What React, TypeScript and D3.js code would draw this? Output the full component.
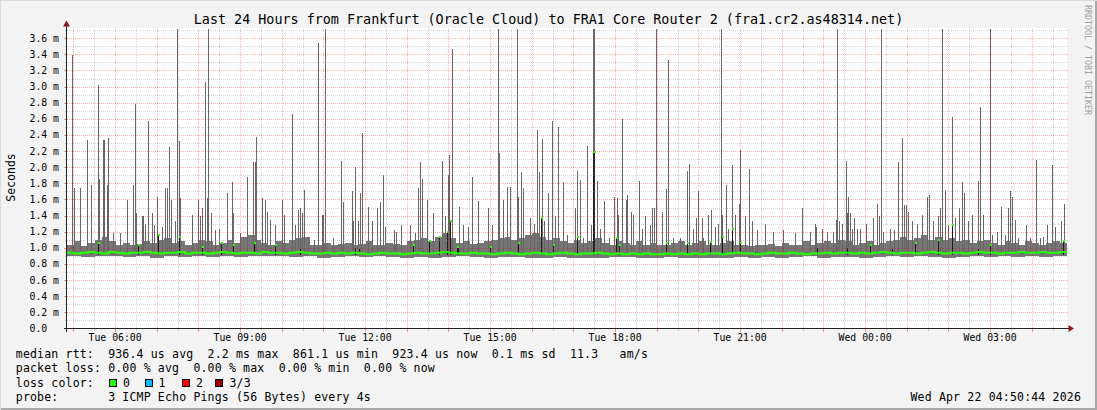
import * as d3 from "d3";
import { useEffect, useRef } from "react";

// time window of the graph
const startTime = new Date(2026, 3, 21, 4, 50, 44);
const endTime = new Date(2026, 3, 22, 4, 50, 44);
const totalMinutes = 1440;

// base smoke top (ms), 10 minute bins
const binMinutes = 10;
const smokeTop = [
  1.04, 1.08, 1.02, 1.06, 1.1, 1.14, 1.08, 1.04, 1.06, 1.03,
  1.05, 1.08, 1.06, 1.1, 1.12, 1.06, 1.08, 1.04, 1.06, 1.1,
  1.08, 1.04, 1.06, 1.1, 1.06, 1.14, 1.16, 1.1, 1.06, 1.04,
  1.08, 1.06, 1.1, 1.12, 1.14, 1.04, 1.03, 1.06, 1.03, 1.05,
  1.06, 1.03, 1.05, 1.08, 1.04, 1.03, 1.06, 1.05, 1.03, 1.08,
  1.1, 1.12, 1.08, 1.14, 1.18, 1.12, 1.06, 1.08, 1.05, 1.06,
  1.08, 1.1, 1.12, 1.14, 1.1, 1.12, 1.16, 1.18, 1.14, 1.1,
  1.12, 1.08, 1.06, 1.1, 1.06, 1.08, 1.12, 1.06, 1.04, 1.08,
  1.06, 1.04, 1.08, 1.03, 1.06, 1.04, 1.03, 1.06, 1.08, 1.04,
  1.06, 1.08, 1.04, 1.03, 1.06, 1.08, 1.04, 1.03, 1.02, 1.04,
  1.03, 1.05, 1.02, 1.06, 1.04, 1.03, 1.08, 1.04, 1.06, 1.08,
  1.06, 1.1, 1.08, 1.04, 1.06, 1.08, 1.04, 1.06, 1.08, 1.1,
  1.14, 1.1, 1.12, 1.16, 1.1, 1.14, 1.1, 1.12, 1.08, 1.1,
  1.06, 1.08, 1.1, 1.06, 1.04, 1.08, 1.06, 1.04, 1.08, 1.06,
  1.04, 1.06, 1.08, 1.06,
];

// median rtt (ms), 10 minute bins
const medianRtt = [
  0.94, 0.93, 0.94, 0.95, 0.94, 0.93, 0.95, 0.94, 0.93, 0.94,
  0.94, 0.95, 0.94, 0.93, 0.94, 0.94, 0.95, 0.93, 0.94, 0.94,
  0.93, 0.94, 0.95, 0.94, 0.93, 0.94, 0.94, 0.93, 0.95, 0.94,
  0.94, 0.93, 0.94, 0.95, 0.94, 0.93, 0.93, 0.94, 0.93, 0.94,
  0.93, 0.94, 0.93, 0.92, 0.93, 0.94, 0.93, 0.93, 0.92, 0.93,
  0.94, 0.93, 0.93, 0.94, 0.95, 0.94, 0.93, 0.93, 0.94, 0.93,
  0.93, 0.92, 0.93, 0.94, 0.93, 0.92, 0.93, 0.94, 0.93, 0.92,
  0.93, 0.94, 0.93, 0.92, 0.93, 0.93, 0.94, 0.93, 0.92, 0.93,
  0.92, 0.93, 0.92, 0.93, 0.92, 0.92, 0.93, 0.92, 0.93, 0.92,
  0.93, 0.92, 0.93, 0.93, 0.92, 0.93, 0.94, 0.93, 0.93, 0.92,
  0.93, 0.94, 0.93, 0.93, 0.94, 0.93, 0.92, 0.93, 0.93, 0.94,
  0.93, 0.94, 0.94, 0.93, 0.94, 0.93, 0.94, 0.95, 0.94, 0.93,
  0.94, 0.94, 0.93, 0.94, 0.95, 0.94, 0.93, 0.94, 0.94, 0.93,
  0.94, 0.95, 0.94, 0.94, 0.93, 0.94, 0.94, 0.95, 0.94, 0.94,
  0.95, 0.94, 0.94, 0.95,
];

// smoke bottom (ms), 20 minute bins
const smokeBottom = [
  0.9, 0.89, 0.9, 0.9, 0.89, 0.9, 0.88, 0.9, 0.89, 0.9,
  0.89, 0.9, 0.89, 0.9, 0.9, 0.9, 0.89, 0.9, 0.88, 0.89,
  0.9, 0.89, 0.9, 0.89, 0.88, 0.89, 0.88, 0.89, 0.9, 0.89,
  0.88, 0.89, 0.89, 0.88, 0.88, 0.89, 0.88, 0.88, 0.88, 0.89,
  0.89, 0.88, 0.88, 0.89, 0.88, 0.88, 0.88, 0.88, 0.89, 0.88,
  0.89, 0.88, 0.89, 0.9, 0.88, 0.89, 0.89, 0.88, 0.89, 0.9,
  0.89, 0.9, 0.89, 0.88, 0.89, 0.9, 0.89, 0.9, 0.89, 0.9,
  0.89, 0.9,
];

// single ping spikes: [minutes since start, max rtt ms]
const spikes: [number, number][] = [
  [7.6, 3.39], [9.4, 1.74], [10.5, 1.74], [18.7, 1.74], [29.2, 2.34], [34.1, 1.78], [45.1, 3.02], [46.5, 1.85],
  [52.3, 2.34], [53.7, 2.34], [57.1, 1.78], [59.5, 2.36], [66.7, 1.18], [76.3, 1.18], [86.8, 1.59], [94.6, 1.78],
  [97.9, 2.79], [99.4, 1.43], [107.5, 1.39], [109.9, 1.39], [112.3, 1.3], [117.1, 2.57], [122, 1.43], [125.7, 1.28],
  [130, 1.63], [136.4, 1.26], [141.1, 1.74], [143.6, 1.74], [147.3, 2.25], [149.8, 1.59], [155.5, 1.33], [158.8, 3.8],
  [161.7, 2.32], [162.7, 1.62], [180.4, 1.41], [189.1, 1.59], [191.5, 1.39], [194.8, 1.49], [199.2, 3.06], [201.2, 1.62],
  [203.5, 3.8], [206.9, 1.43], [213.1, 1.22], [218.9, 1.24], [230, 1.68], [237.2, 1.82], [239.5, 1.43], [249.1, 1.18],
  [258.8, 1.88], [268.3, 2.07], [270, 2.07], [271.7, 2.38], [280.4, 1.62], [285.1, 1.59], [287.6, 1.45], [292.3, 1.35],
  [299.5, 1.28], [310, 1.59], [312.9, 1.41], [324.4, 2.66], [328.3, 1.28], [333.1, 1.47], [335.5, 1.5], [338, 1.43],
  [340.8, 1.72], [347.5, 1.12], [356.1, 1.1],
  [361.9, 3.54], [366.8, 1.41], [369.1, 1.41], [371.5, 3.8], [383.5, 1.12], [394.1, 2.08], [397.9, 1.57], [410.8, 1.7],
  [412.3, 1.33], [415.2, 2.0], [419.5, 1.33], [421.9, 1.68], [424.8, 2.42], [433.9, 1.51], [439.6, 1.33], [446, 1.49],
  [451.2, 1.57], [454.6, 1.9], [457.9, 1.26], [470.4, 1.22], [473.3, 1.2], [481, 1.28], [493.9, 1.28], [501.1, 1.18],
  [505, 1.74], [508.8, 2.07], [511.6, 1.86], [518, 1.59], [527.5, 1.43], [540.4, 2.08], [544.3, 1.39], [548.2, 1.9],
  [550.5, 2.15], [554.8, 3.46], [564.9, 1.51], [570.7, 1.28], [577, 1.26], [583.6, 1.88], [591.4, 1.58], [606.7, 1.5],
  [611.6, 1.28], [620.2, 3.8], [622.5, 2.18], [628.3, 1.59], [633.2, 1.76], [638, 1.76], [648.4, 3.8], [649.9, 1.63],
  [653.3, 1.94], [657.1, 1.74], [666.7, 1.37], [672.5, 1.3], [677.2, 2.46], [680.1, 1.94], [683.6, 2.35], [687.3, 1.33],
  [693.1, 1.68], [698, 2.57], [702.7, 1.39], [707.5, 2.5], [714.7, 1.82],
  [719.6, 1.16], [731.5, 1.49], [734.8, 1.95], [738.7, 1.84], [743.5, 1.12], [749.2, 2.26], [754.1, 1.28], [757.9, 3.8],
  [759.3, 3.8], [762.8, 1.83], [767.5, 1.24], [773.3, 1.58], [780.9, 1.12], [787.7, 1.63], [791.5, 1.62], [793.9, 1.41],
  [799.6, 2.6], [804.6, 1.59], [806, 1.66], [811.7, 1.45], [815.5, 1.41], [824.1, 1.83], [828.5, 1.24], [832.3, 1.39],
  [839.5, 1.28], [842.8, 1.5], [845.7, 1.5], [848.6, 3.8], [856.4, 1.45], [862.6, 1.73], [865.9, 3.33], [873.1, 1.12],
  [882.7, 1.12], [893.2, 1.95], [896.1, 2.04], [901.9, 1.24], [905.8, 1.37], [909.1, 1.7], [914, 1.37], [916.3, 1.12],
  [922.6, 1.41], [926.9, 1.47], [933.1, 1.26], [937.9, 1.3], [942.2, 3.8], [943.6, 1.41], [948.5, 1.78], [951.4, 1.24],
  [957.2, 2.03], [962, 1.41], [967.7, 1.55], [969.1, 2.21], [976.3, 1.39], [982.5, 1.98], [986, 1.33], [993.1, 1.22],
  [1005.1, 1.3], [1017.1, 1.2], [1031.5, 1.22], [1048.3, 1.18], [1058, 1.5], [1069.9, 1.2], [1077.1, 1.3],
  [1078.6, 1.26], [1086.8, 1.24], [1094, 1.2], [1103.6, 1.2], [1107, 1.35], [1109.3, 3.8], [1111.7, 1.33], [1116.5, 1.29],
  [1122.3, 2.08], [1123.2, 1.43], [1125.2, 1.63], [1127.5, 1.43], [1130.8, 1.24], [1133.6, 1.37], [1137.1, 1.24], [1141.9, 1.24],
  [1151, 1.3], [1161.1, 1.37], [1166.8, 1.54], [1169.7, 1.39], [1172.6, 3.8], [1175.5, 1.2], [1185.1, 1.24], [1190.9, 1.22],
  [1197.1, 2.07], [1202.9, 2.36], [1205.8, 1.53], [1208.2, 1.53], [1211.5, 1.45], [1216.4, 1.33], [1223.6, 1.3], [1230.8, 1.41],
  [1238, 1.63], [1241.3, 1.66], [1247.5, 1.33], [1253.8, 1.4], [1256.7, 1.49], [1259.6, 3.8], [1264.3, 1.72], [1269.1, 1.28],
  [1274.8, 2.62], [1278.7, 1.37], [1284.9, 1.5], [1288.4, 1.82], [1291.3, 1.68], [1297.9, 1.33], [1302.8, 1.41], [1311.4, 1.83],
  [1315.2, 2.75], [1319.5, 1.41], [1329.1, 3.8], [1331.6, 1.16], [1338.8, 1.2], [1345, 1.51], [1350.7, 1.16], [1355.5, 1.49],
  [1358.4, 1.7], [1361.3, 1.63], [1365.1, 1.35], [1369.9, 1.12], [1381, 1.28], [1386.7, 1.12], [1394.9, 2.09], [1401.1, 1.12],
  [1405, 1.14], [1410.8, 1.28], [1418, 2.03], [1422.7, 1.26], [1430.9, 1.33], [1435.7, 1.54],
];

// dense (dark) smoke near the median: [minutes since start, top ms]
const darkBits: [number, number][] = [
  [45, 1.06], [101.8, 1.04], [130.6, 1.16], [161.3, 1.14], [194, 1.01], [221.8, 1.06], [239.5, 1.04], [269.8, 1.06],
  [299.5, 1.04], [335.5, 0.98], [414.7, 1.0], [421, 0.99], [498.7, 1.04], [521.3, 1.08], [535.7, 1.14], [546.7, 1.2],
  [551.5, 1.33], [561, 1.01], [563.5, 1.0], [609, 1.01], [649, 1.06], [682.6, 1.37], [700.3, 1.04], [734, 1.14],
  [757.9, 2.19], [759.3, 2.19], [790, 1.12], [794.9, 1.04], [862.6, 1.06], [893.3, 1.06], [926, 1.07], [942.8, 1.14],
  [957.2, 1.23], [969.1, 1.06], [990.7, 0.95], [1079.5, 1.0], [1122.7, 1.0], [1155.6, 1.04], [1187.5, 0.98], [1221, 1.06],
  [1254.7, 1.1], [1273.9, 1.28], [1312.3, 0.98], [1329, 1.04], [1350.7, 0.95], [1434.7, 1.09],
];

const yTickValues = [0, 0.2, 0.4, 0.6, 0.8, 1.0, 1.2, 1.4, 1.6, 1.8, 2.0, 2.2, 2.4, 2.6, 2.8, 3.0, 3.2, 3.4, 3.6];
const yTickLabels = ["0.0", "0.2 m", "0.4 m", "0.6 m", "0.8 m", "1.0 m", "1.2 m", "1.4 m", "1.6 m", "1.8 m", "2.0 m",
  "2.2 m", "2.4 m", "2.6 m", "2.8 m", "3.0 m", "3.2 m", "3.4 m", "3.6 m"];
const xTickLabels = ["Tue 06:00", "Tue 09:00", "Tue 12:00", "Tue 15:00", "Tue 18:00", "Tue 21:00", "Wed 00:00", "Wed 03:00"];

const title = "Last 24 Hours from Frankfurt (Oracle Cloud) to FRA1 Core Router 2 (fra1.cr2.as48314.net)";
const legendLines = [
  "median rtt:  936.4 us avg  2.2 ms max  861.1 us min  923.4 us now  0.1 ms sd  11.3   am/s",
  "packet loss: 0.00 % avg  0.00 % max  0.00 % min  0.00 % now",
  "loss color:",
  "probe:       3 ICMP Echo Pings (56 Bytes) every 4s",
];
const lossLabels = ["0", "1", "2", "3/3"];
const lossColors = ["#26ff00", "#00b8ff", "#ff0000", "#a10000"];
const stamp = "Wed Apr 22 04:50:44 2026";

const MONO = "'DejaVu Sans Mono', monospace";

const App = () => {
  const ref = useRef<SVGSVGElement>(null);

  useEffect(() => {
    const svg = d3.select(ref.current);
    svg.selectAll("*").remove();

    const W = 1097, H = 410;
    const left = 67, right = 1067, top = 28.5, bottom = 328.5;

    const xm = d3.scaleLinear().domain([0, totalMinutes]).range([left, right]);
    const xt = d3.scaleTime().domain([startTime, endTime]).range([left, right]);
    const y = d3.scaleLinear().domain([0, 3.72]).range([bottom, top]);
    const yc = (v: number) => y(Math.min(v, 3.72));

    // canvas
    svg.append("rect").attr("width", W).attr("height", H).attr("fill", "#f3f3f3");
    svg.append("rect").attr("x", 0).attr("y", H - 2).attr("width", W).attr("height", 2).attr("fill", "#a8a8a8");
    svg.append("rect").attr("x", W - 2).attr("y", 0).attr("width", 2).attr("height", H).attr("fill", "#a8a8a8");
    svg.append("rect").attr("x", 0).attr("y", 0).attr("width", W).attr("height", 1).attr("fill", "#dcdcdc");
    svg.append("rect").attr("x", 0).attr("y", 0).attr("width", 1).attr("height", H).attr("fill", "#dcdcdc");

    svg.append("rect")
      .attr("x", left).attr("y", top - 0.5)
      .attr("width", right - left).attr("height", bottom - top + 0.5)
      .attr("fill", "#ffffff");

    const g = svg.append("g").attr("shape-rendering", "crispEdges");

    // smoke body
    g.selectAll(".smoke")
      .data(smokeTop)
      .enter()
      .append("rect")
      .attr("x", (d, i) => xm(i * binMinutes))
      .attr("width", xm(binMinutes) - xm(0))
      .attr("y", d => y(d))
      .attr("height", (d, i) => y(smokeBottom[Math.floor(i / 2)]) - y(d))
      .attr("fill", "#767676");

    // spikes
    g.selectAll(".spike")
      .data(spikes)
      .enter()
      .append("rect")
      .attr("x", d => Math.round(xm(d[0])))
      .attr("width", 1)
      .attr("y", d => yc(d[1]))
      .attr("height", d => y(0.95) - yc(d[1]))
      .attr("fill", "#666666");

    // dense smoke
    g.selectAll(".dark")
      .data(darkBits)
      .enter()
      .append("rect")
      .attr("x", d => Math.round(xm(d[0])))
      .attr("width", 1)
      .attr("y", d => y(d[1]))
      .attr("height", d => y(0.91) - y(d[1]))
      .attr("fill", "#1c1c1c");

    // median line
    const medPts = medianRtt.map((v, i) => [i * binMinutes, v] as [number, number]);
    medPts.push([totalMinutes, medianRtt[medianRtt.length - 1]]);
    svg.append("path")
      .datum(medPts)
      .attr("d", d3.line<[number, number]>().x(d => xm(d[0])).y(d => y(d[1])).curve(d3.curveStepAfter))
      .attr("fill", "none")
      .attr("stroke", lossColors[0])
      .attr("stroke-width", 2);

    g.selectAll(".cap")
      .data(darkBits.filter(d => d[1] > 1.0))
      .enter()
      .append("rect")
      .attr("x", d => Math.round(xm(d[0])) - 0.5)
      .attr("width", 2)
      .attr("y", d => y(d[1]) - 1)
      .attr("height", 2)
      .attr("fill", lossColors[0]);

    // grid on top
    const grid = svg.append("g").attr("shape-rendering", "crispEdges");
    const hLines = d3.range(1, 38).map(i => i / 10);
    hLines.forEach((v, i) => {
      const major = i % 2 === 1;
      const yy = Math.round(y(v)) + 0.5;
      grid.append("line")
        .attr("x1", left).attr("x2", right + 2)
        .attr("y1", yy).attr("y2", yy)
        .attr("stroke", major ? "rgba(255,0,0,0.3)" : "rgba(128,128,128,0.35)")
        .attr("stroke-dasharray", "1,1");
      grid.append("line")
        .attr("x1", left - (major ? 3 : 2)).attr("x2", left)
        .attr("y1", yy).attr("y2", yy)
        .attr("stroke", major ? "#f09090" : "#c8c8c8");
    });
    const vTimes = d3.timeMinute.every(30)!.range(startTime, endTime);
    vTimes.forEach(t => {
      const major = t.getMinutes() === 0;
      const xx = Math.round(xt(t)) + 0.5;
      grid.append("line")
        .attr("x1", xx).attr("x2", xx)
        .attr("y1", top).attr("y2", bottom)
        .attr("stroke", major ? "rgba(255,0,0,0.3)" : "rgba(128,128,128,0.35)")
        .attr("stroke-dasharray", "1,1");
      grid.append("line")
        .attr("x1", xx).attr("x2", xx)
        .attr("y1", bottom).attr("y2", bottom + (major ? 3 : 2))
        .attr("stroke", major ? "#f09090" : "#c8c8c8");
    });

    // axes
    grid.append("line").attr("x1", left - 0.5).attr("x2", left - 0.5).attr("y1", 23).attr("y2", bottom + 3)
      .attr("stroke", "#222");
    grid.append("line").attr("x1", left - 3).attr("x2", right + 3).attr("y1", bottom).attr("y2", bottom)
      .attr("stroke", "#222");
    svg.append("path").attr("d", `M${left - 0.5},20.5 L${left + 3},26.5 L${left - 4},26.5 Z`).attr("fill", "#8b1a1a");
    svg.append("path").attr("d", `M${right + 7},${bottom} L${right + 1.5},${bottom - 3.5} L${right + 1.5},${bottom + 3.5} Z`)
      .attr("fill", "#8b1a1a");

    // y labels
    svg.selectAll(".ylab")
      .data(yTickValues)
      .enter()
      .append("text")
      .attr("x", 29.5)
      .attr("y", d => y(d) + 3.5)
      .attr("font-family", MONO)
      .attr("font-size", 9.8)
      .attr("fill", "#000")
      .attr("xml:space", "preserve")
      .text((d, i) => yTickLabels[i]);

    // x labels
    const xTicks = d3.timeHour.every(3)!.range(startTime, endTime);
    svg.selectAll(".xlab")
      .data(xTicks)
      .enter()
      .append("text")
      .attr("x", d => xt(d))
      .attr("y", 340.5)
      .attr("text-anchor", "middle")
      .attr("font-family", MONO)
      .attr("font-size", 9.8)
      .attr("fill", "#000")
      .text((d, i) => xTickLabels[i]);

    // titles
    svg.append("text")
      .attr("x", W / 2).attr("y", 24)
      .attr("text-anchor", "middle")
      .attr("font-family", MONO).attr("font-size", 13.4)
      .attr("fill", "#000")
      .text(title);

    svg.append("text")
      .attr("transform", "translate(15,177.5) rotate(-90)")
      .attr("text-anchor", "middle")
      .attr("font-family", MONO).attr("font-size", 11.5)
      .attr("fill", "#000")
      .text("Seconds");

    svg.append("text")
      .attr("transform", "translate(1085,5) rotate(90)")
      .attr("font-family", MONO).attr("font-size", 8.3)
      .attr("fill", "#a0a0a0")
      .text("RRDTOOL / TOBI OETIKER");

    // legend
    const baselines = [357.5, 372, 386.5, 401];
    legendLines.forEach((line, i) => {
      svg.append("text")
        .attr("x", 15.8).attr("y", baselines[i])
        .attr("font-family", MONO).attr("font-size", 11.5)
        .attr("letter-spacing", 0.18)
        .attr("xml:space", "preserve")
        .style("white-space", "pre")
        .attr("fill", "#000")
        .text(line);
    });
    const boxX = [109, 144.5, 182, 215];
    const labX = [123, 158.5, 196, 229.5];
    lossLabels.forEach((lab, i) => {
      svg.append("rect")
        .attr("x", boxX[i] + 0.5).attr("y", 379.5)
        .attr("width", 7).attr("height", 7)
        .attr("fill", lossColors[i])
        .attr("stroke", "#000")
        .attr("shape-rendering", "crispEdges");
      svg.append("text")
        .attr("x", labX[i]).attr("y", baselines[2])
        .attr("font-family", MONO).attr("font-size", 11.5)
        .attr("letter-spacing", 0.18)
        .attr("fill", "#000")
        .text(lab);
    });
    svg.append("text")
      .attr("x", 1081).attr("y", baselines[3])
      .attr("text-anchor", "end")
      .attr("font-family", MONO).attr("font-size", 11.5)
      .attr("letter-spacing", 0.18)
      .attr("fill", "#000")
      .text(stamp);
  }, []);

  return (
    <svg
      ref={ref}
      width={1097}
      height={410}
      style={{ position: "absolute", left: 0, top: 0, display: "block" }}
    />
  );
};

export default App;
